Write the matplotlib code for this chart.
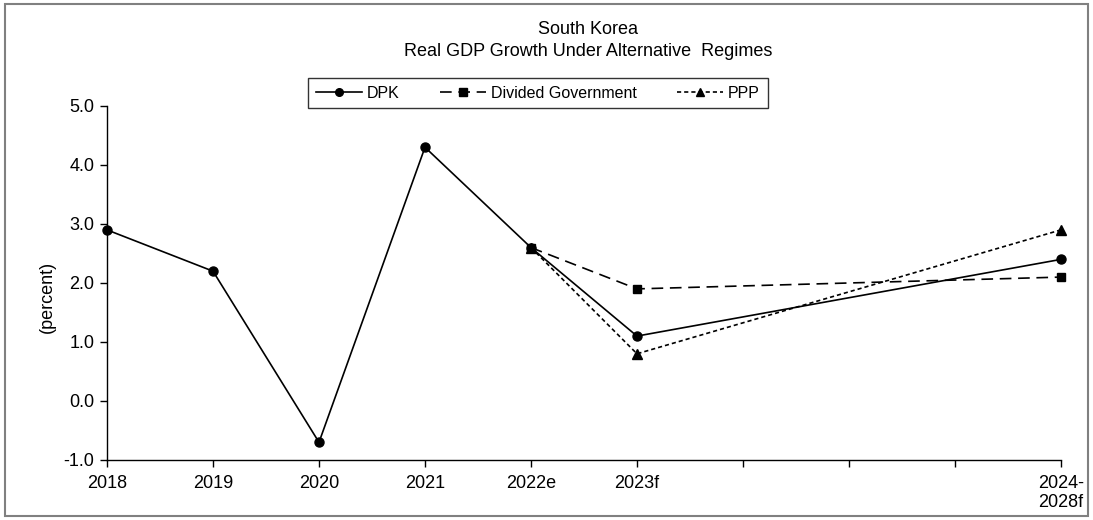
import numpy as np
import matplotlib.pyplot as plt
from matplotlib.lines import Line2D
from matplotlib.patches import Rectangle

plt.rcParams['font.family'] = ['Liberation Sans', 'DejaVu Sans']

# x categories (two unlabeled slots before the 2024-2028 average)
categories = ['2018', '2019', '2020', '2021', '2022e', '2023f', '', '', '', '2024-\n2028f']
nan = np.nan
dpk = [2.9, 2.2, -0.7, 4.3, 2.6, 1.1, nan, nan, nan, 2.4]
divided = [nan, nan, nan, nan, 2.6, 1.9, nan, nan, nan, 2.1]
ppp = [nan, nan, nan, nan, 2.6, 0.8, nan, nan, nan, 2.9]

x = np.arange(len(categories))

fig = plt.figure(figsize=(10.93, 5.2), dpi=100)
ax = fig.add_axes([0.0979, 0.1154, 0.8728, 0.6808])

def draw(vals, **kw):
    v = np.array(vals, dtype=float)
    m = ~np.isnan(v)
    ax.plot(x[m], v[m], color='black', lw=1.2, clip_on=False, **kw)

draw(dpk, ls='-', marker='o', ms=6.5)
draw(divided, ls=(0, (7, 4)), marker='s', ms=6)
draw(ppp, ls=(0, (2.5, 1.8)), marker='^', ms=6.5)

ax.set_xlim(0, 9)
ax.set_ylim(-1, 5)
ax.set_xticks(x)
ax.set_xticklabels(categories, fontsize=13, linespacing=1.15)
ax.set_yticks(np.arange(-1, 6, 1))
ax.set_yticklabels([f'{v:.1f}' for v in np.arange(-1, 6, 1)], fontsize=13)
ax.tick_params(axis='both', direction='out', length=5, width=1, pad=4)
ax.tick_params(axis='x', pad=6)
for side in ('top', 'right'):
    ax.spines[side].set_visible(False)
for side in ('left', 'bottom'):
    ax.spines[side].set_linewidth(1)

ax.set_ylabel('(percent)', fontsize=13)
ax.yaxis.set_label_coords(-0.054, 0.46)

fig.text(0.538, 1 - 30 / 520, 'South Korea', ha='center', va='center', fontsize=13)
fig.text(0.538, 1 - 52 / 520, 'Real GDP Growth Under Alternative  Regimes',
         ha='center', va='center', fontsize=13)

handles = [
    Line2D([], [], color='black', lw=1.2, ls='-', marker='o', ms=5.5),
    Line2D([], [], color='black', lw=1.2, ls=(0, (7, 4)), marker='s', ms=5.5),
    Line2D([], [], color='black', lw=1.2, ls=(0, (2.5, 1.8)), marker='^', ms=5.5),
]
leg = fig.legend(handles, ['DPK', 'Divided Government', 'PPP'], ncol=3,
                 loc='center', bbox_to_anchor=(0.492, 1 - 93 / 520),
                 fontsize=11.5, frameon=True, fancybox=False, handlelength=2.9,
                 handletextpad=0.3, columnspacing=2.5, borderpad=0.5)
leg.get_frame().set_edgecolor('black')
leg.get_frame().set_linewidth(1)

# outer border around the whole figure
fig.patches.append(Rectangle((0.005, 0.008), 0.99, 0.985, transform=fig.transFigure,
                             fill=False, edgecolor='#808080', lw=1.5))

fig.savefig('out.png', dpi=100)
